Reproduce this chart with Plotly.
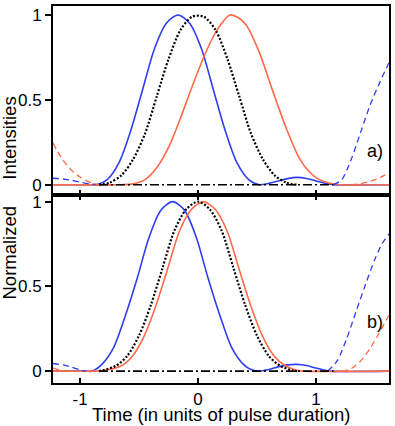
import plotly.graph_objects as go

# data (x in units of pulse duration, y normalized)
# panel a)
BLUE_A_X = [-1.23, -0.92, -0.86, -0.77, -0.67, -0.57, -0.47, -0.37, -0.27, -0.17, -0.07, 0.03, 0.13,
            0.23, 0.33, 0.43, 0.52, 0.6, 0.68, 0.76, 0.84, 0.92, 1.0, 1.08, 1.15, 1.62]
BLUE_A_Y = [0, 0, 0, 0.03, 0.13, 0.32, 0.56, 0.8, 0.95, 1.0, 0.95, 0.8, 0.56,
            0.32, 0.13, 0.03, 0.0, 0.008, 0.022, 0.036, 0.043, 0.037, 0.022, 0.008, 0.0, 0.0]
DOT_A_X = [-0.84, -0.75, -0.65, -0.55, -0.45, -0.35, -0.25, -0.15, -0.05, 0.05, 0.15, 0.25, 0.35,
           0.45, 0.55, 0.65, 0.75, 0.84]
DOT_A_Y = [0, 0.012, 0.055, 0.15, 0.30, 0.52, 0.74, 0.91, 0.99, 0.99, 0.91, 0.74, 0.52,
           0.30, 0.15, 0.055, 0.012, 0]
ORANGE_A_X = [-1.23, -0.65, -0.55, -0.45, -0.35, -0.25, -0.15, -0.06, 0.03, 0.12, 0.2, 0.27, 0.34,
              0.41, 0.52, 0.635, 0.75, 0.86, 0.945, 1.03, 1.12, 1.2, 1.62]
ORANGE_A_Y = [0, 0, 0.005, 0.03, 0.1, 0.22, 0.39, 0.56, 0.72, 0.86, 0.95, 1.0, 0.985,
              0.94, 0.78, 0.55, 0.33, 0.155, 0.075, 0.03, 0.008, 0, 0]
BLUE_A_DASH = ([-1.23, -1.15, -1.08, -1.0, -0.92, -0.86], [0.038, 0.034, 0.027, 0.015, 0.005, 0])
BLUE_A_DASH_R = ([1.15, 1.22, 1.3, 1.38, 1.46, 1.54, 1.62], [0, 0.03, 0.15, 0.31, 0.47, 0.6, 0.72])
ORANGE_A_DASH = ([-1.23, -1.16, -1.08, -1.0, -0.92, -0.84], [0.245, 0.16, 0.09, 0.045, 0.015, 0])
ORANGE_A_DASH_R = ([1.3, 1.38, 1.46, 1.54, 1.62], [0, 0.006, 0.02, 0.04, 0.07])

# panel b)
BLUE_B_X = [-1.23, -0.95, -0.9, -0.815, -0.715, -0.615, -0.515, -0.415, -0.315, -0.215, -0.115, -0.015,
            0.085, 0.185, 0.285, 0.385, 0.45, 0.52, 0.6, 0.68, 0.76, 0.84, 0.92, 1.0, 1.06, 1.12, 1.62]
BLUE_B_Y = [0, 0, 0, 0.04, 0.14, 0.33, 0.55, 0.79, 0.95, 1.0, 0.95, 0.79,
            0.55, 0.33, 0.14, 0.04, 0.01, 0, 0.01, 0.025, 0.037, 0.04, 0.033, 0.018, 0.008, 0, 0]
DOT_B_X = [-0.84, -0.7, -0.6, -0.5, -0.4, -0.3, -0.2, -0.1, 0, 0.1, 0.2, 0.3, 0.4, 0.5, 0.6, 0.7, 0.8, 0.84]
DOT_B_Y = [0, 0.03, 0.09, 0.21, 0.39, 0.61, 0.83, 0.955, 1.0, 0.955, 0.83, 0.61, 0.39, 0.21, 0.09, 0.03, 0.004, 0]
ORANGE_B_X = [-1.23, -0.9, -0.8, -0.655, -0.555, -0.455, -0.355, -0.255, -0.155, -0.055, 0.045, 0.145,
              0.245, 0.345, 0.445, 0.545, 0.645, 0.745, 0.845, 0.9, 1.62]
ORANGE_B_Y = [0, 0, 0.004, 0.03, 0.09, 0.21, 0.39, 0.61, 0.83, 0.955, 1.0, 0.955,
              0.83, 0.61, 0.39, 0.21, 0.09, 0.03, 0.004, 0, 0]
BLUE_B_DASH = ([-1.23, -1.15, -1.08, -1.0, -0.95], [0.045, 0.037, 0.025, 0.008, 0])
BLUE_B_DASH_R = ([1.1, 1.18, 1.26, 1.34, 1.42, 1.5, 1.56, 1.62], [0, 0.06, 0.19, 0.35, 0.51, 0.66, 0.75, 0.81])
ORANGE_B_DASH = ([-1.23, -1.17, -1.1], [0.018, 0.006, 0])
ORANGE_B_DASH_R = ([1.22, 1.3, 1.38, 1.46, 1.54, 1.62], [0, 0.015, 0.06, 0.135, 0.23, 0.33])

ZERO_X = [-0.84, 1.15]
ZERO_Y = [0, 0]

# styles
BLUE = '#2f3ff0'
ORANGE = '#ff6a48'
FONT = 'Liberation Sans, Arial, sans-serif'


def line(x, y, color, dash='solid', width=1.6, axes=('x', 'y')):
    return go.Scatter(x=x, y=y, mode='lines', xaxis=axes[0], yaxis=axes[1],
                      line=dict(color=color, dash=dash, width=width, shape='spline', smoothing=0.8),
                      showlegend=False, hoverinfo='skip')


def add_panel(fig, axes, blue, orange, dot, dashes):
    fig.add_trace(line(*blue, BLUE, axes=axes))
    fig.add_trace(line(*orange, ORANGE, axes=axes))
    for (x, y), c in dashes:
        fig.add_trace(line(x, y, c, dash='6px,4px', width=1.3, axes=axes))
    fig.add_trace(line(*dot, 'black', dash='2px,1.8px', width=2.2, axes=axes))
    fig.add_trace(line(ZERO_X, ZERO_Y, 'black', dash='9px,3px,2px,3px', width=1.6, axes=axes))


fig = go.Figure()
# top panel a)
add_panel(fig, ('x2', 'y2'), (BLUE_A_X, BLUE_A_Y), (ORANGE_A_X, ORANGE_A_Y), (DOT_A_X, DOT_A_Y),
          [(BLUE_A_DASH, BLUE), (BLUE_A_DASH_R, BLUE), (ORANGE_A_DASH, ORANGE), (ORANGE_A_DASH_R, ORANGE)])
# bottom panel b)
add_panel(fig, ('x', 'y'), (BLUE_B_X, BLUE_B_Y), (ORANGE_B_X, ORANGE_B_Y), (DOT_B_X, DOT_B_Y),
          [(BLUE_B_DASH, BLUE), (BLUE_B_DASH_R, BLUE), (ORANGE_B_DASH, ORANGE), (ORANGE_B_DASH_R, ORANGE)])

#axes
AXIS = dict(showline=True, linecolor='black', linewidth=2, showgrid=False, zeroline=False,
            tickcolor='black', tickwidth=1.5,
            tickfont=dict(family=FONT, size=17, color='black'))
XTICKS = dict(tickmode='array', tickvals=[-1, 0, 1], ticktext=['-1', '0', '1'], range=[-1.23, 1.62])
YTICKS = dict(tickmode='array', tickvals=[0, 0.5, 1], ticktext=['0', '0.5', '1'], ticks='outside',
              ticklen=6, mirror=True)

fig.update_layout(
    width=395, height=426,
    margin=dict(l=53, r=5, t=4, b=43),
    plot_bgcolor='white', paper_bgcolor='white',
    # inside ticks on both sides of the shared border give the crossing tick look
    xaxis=dict(**AXIS, **XTICKS, anchor='y', ticks='inside', ticklen=5, mirror='ticks'),
    xaxis2=dict(**AXIS, **XTICKS, anchor='y2', matches='x', ticks='inside', ticklen=5, mirror=True,
                showticklabels=False),
    yaxis=dict(**AXIS, **YTICKS, domain=[0, 0.499], range=[-0.07, 1.04]),
    yaxis2=dict(**AXIS, **YTICKS, domain=[0.499, 1], range=[-0.06, 1.053]),
)

#labels
TITLE_FONT = dict(family=FONT, size=18.5, color='black')
fig.add_annotation(text='Intensities', textangle=-90, xref='paper', yref='paper',
                   x=-0.13, xanchor='center', y=0.649, yanchor='middle', showarrow=False, font=TITLE_FONT)
fig.add_annotation(text='Normalized', textangle=-90, xref='paper', yref='paper',
                   x=-0.13, xanchor='center', y=0.347, yanchor='middle', showarrow=False, font=TITLE_FONT)
fig.add_annotation(text='Time (in units of pulse duration)', xref='paper', yref='paper',
                   x=0.5, y=-0.1145, yanchor='bottom', showarrow=False, borderpad=0,
                   font=dict(family=FONT, size=18.5, color='black'))
fig.add_annotation(text='a)', xref='x2', yref='y2', x=1.5, y=0.2, showarrow=False,
                   font=dict(family=FONT, size=18, color='black'))
fig.add_annotation(text='b)', xref='x', yref='y', x=1.5, y=0.29, showarrow=False,
                   font=dict(family=FONT, size=18, color='black'))

# page body has a default 8px margin, drop it so the figure sits at the corner
fig.write_html('out.html', config={'displayModeBar': False},
               post_script="document.body.style.margin='0';")
